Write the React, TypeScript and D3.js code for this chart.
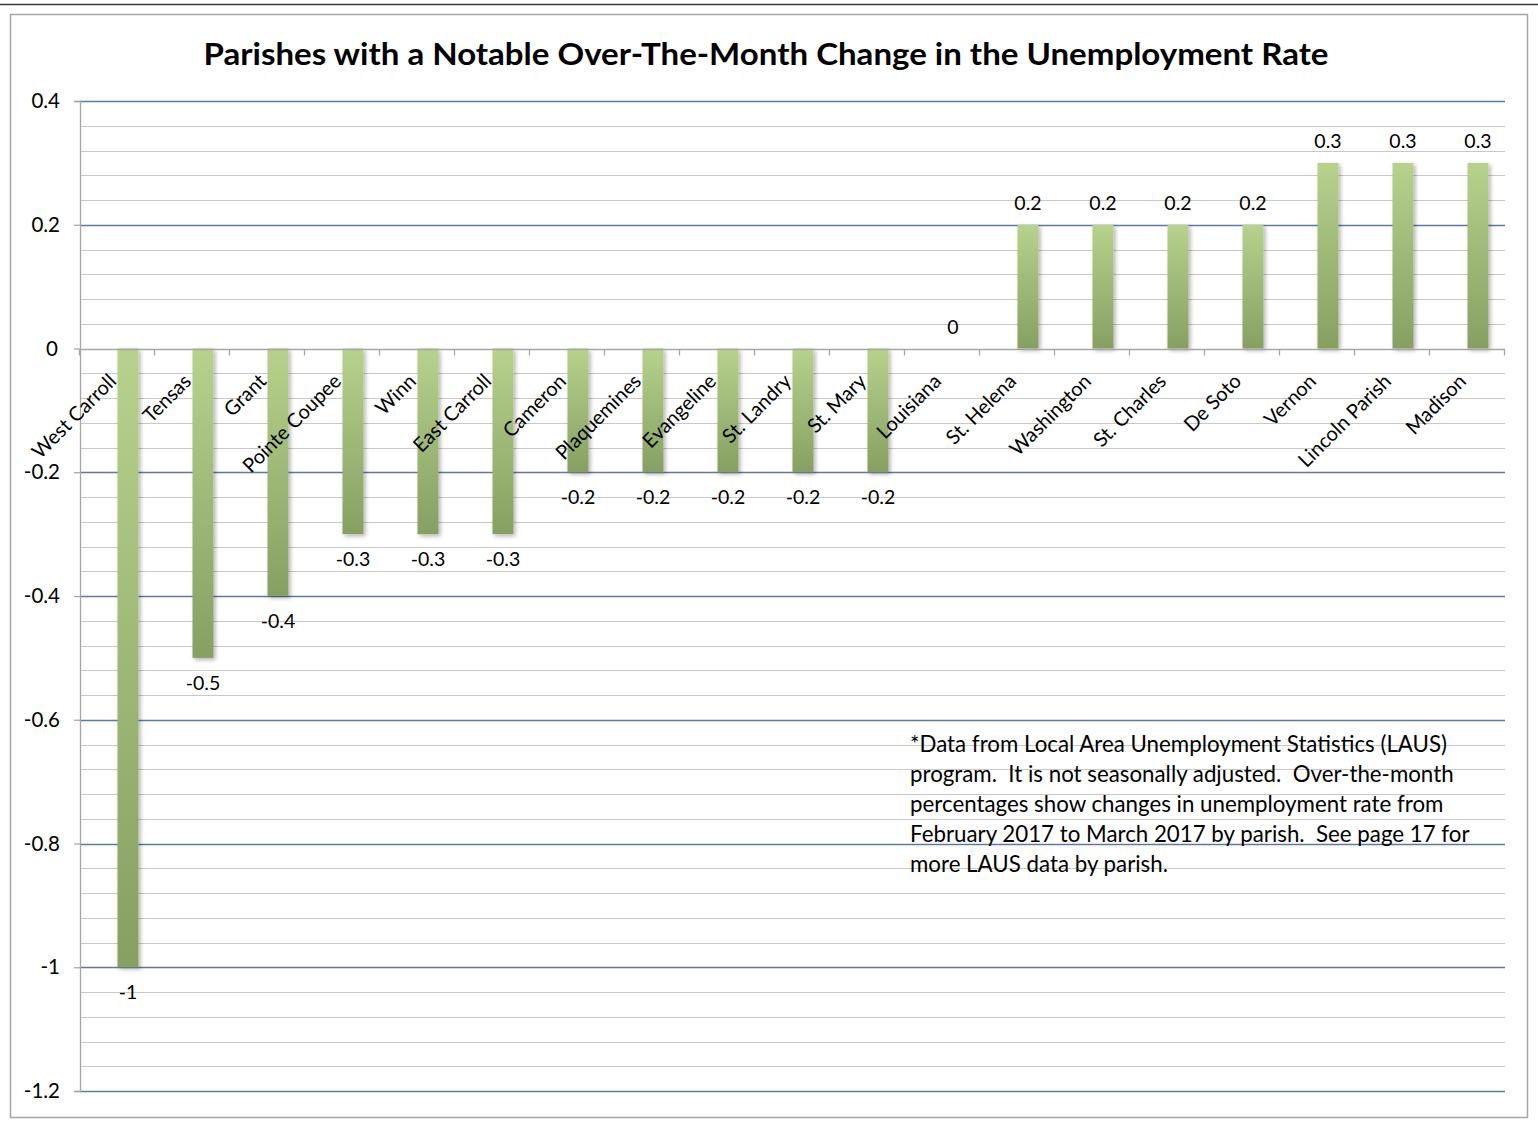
import { useRef, useEffect } from "react";
import * as d3 from "d3";

const PARISHES = [
  "West Carroll", "Tensas", "Grant", "Pointe Coupee", "Winn", "East Carroll",
  "Cameron", "Plaquemines", "Evangeline", "St. Landry", "St. Mary", "Louisiana",
  "St. Helena", "Washington", "St. Charles", "De Soto", "Vernon", "Lincoln Parish", "Madison",
];
const CHANGES = [
  -1, -0.5, -0.4, -0.3, -0.3, -0.3,
  -0.2, -0.2, -0.2, -0.2, -0.2, 0,
  0.2, 0.2, 0.2, 0.2, 0.3, 0.3, 0.3,
];
const Y_TICKS = [0.4, 0.2, 0, -0.2, -0.4, -0.6, -0.8, -1, -1.2];
const TITLE = "Parishes with a Notable Over-The-Month Change in the Unemployment Rate";
const NOTE_LINES = [
  "*Data from Local Area Unemployment Statistics (LAUS)",
  "program.  It is not seasonally adjusted.  Over-the-month",
  "percentages show changes in unemployment rate from",
  "February 2017 to March 2017 by parish.  See page 17 for",
  "more LAUS data by parish.",
];

const WIDTH = 1538;
const HEIGHT = 1121;
const PLOT = { left: 80, right: 1505, top: 101, bottom: 1091 };
const FONT = "Lato, 'Open Sans', sans-serif";

export default function App() {
  const svgRef = useRef<SVGSVGElement>(null);

  useEffect(() => {
    if (!svgRef.current) return;
    const svg = d3.select(svgRef.current);
    svg.selectAll("*").remove();

    const defs = svg.append("defs");
    const grad = defs.append("linearGradient")
      .attr("id", "bar-grad")
      .attr("x1", 0).attr("y1", 0).attr("x2", 0).attr("y2", 1);
    grad.append("stop").attr("offset", "0%").attr("stop-color", "#b6d28c");
    grad.append("stop").attr("offset", "100%").attr("stop-color", "#86a062");

    const shadow = defs.append("filter").attr("id", "bar-shadow")
      .attr("x", "-30%").attr("y", "-10%").attr("width", "160%").attr("height", "120%");
    shadow.append("feDropShadow")
      .attr("dx", 2).attr("dy", 2).attr("stdDeviation", 2)
      .attr("flood-color", "#000").attr("flood-opacity", 0.3);

    // page rule + chart frame
    svg.append("line")
      .attr("x1", 0).attr("x2", WIDTH).attr("y1", 4.5).attr("y2", 4.5)
      .attr("stroke", "#3a3a3a").attr("stroke-width", 1.5);
    svg.append("rect")
      .attr("x", 10.5).attr("y", 14.5).attr("width", 1517).attr("height", 1103)
      .attr("fill", "#fff").attr("stroke", "#a6a6a6").attr("stroke-width", 1.5);

    // title
    svg.append("text")
      .attr("x", 766).attr("y", 65)
      .attr("text-anchor", "middle")
      .attr("font-family", FONT).attr("font-size", 31).attr("font-weight", 700)
      .attr("fill", "#000")
      .attr("textLength", 1125).attr("lengthAdjust", "spacingAndGlyphs")
      .text(TITLE);

    const x = d3.scaleBand<string>().domain(PARISHES).range([PLOT.left, PLOT.right]);
    // Excel-style cluster: an empty slot then the visible series
    const sub = d3.scaleBand<string>().domain(["empty", "change"])
      .range([0, x.step()]).paddingOuter(0.79);
    const y = d3.scaleLinear().domain([-1.2, 0.4]).range([PLOT.bottom, PLOT.top]);

    // minor gridlines
    const minor = d3.range(-1.2, 0.4001, 0.04).map((v) => +v.toFixed(2));
    svg.append("g").selectAll("line")
      .data(minor.filter((v) => !Y_TICKS.some((t) => Math.abs(t - v) < 1e-6)))
      .join("line")
      .attr("x1", PLOT.left).attr("x2", PLOT.right)
      .attr("y1", (d) => Math.round(y(d)) + 0.5).attr("y2", (d) => Math.round(y(d)) + 0.5)
      .attr("stroke", "#c8c8c8").attr("stroke-width", 1.2);

    // major gridlines (not the zero line)
    svg.append("g").selectAll("line")
      .data(Y_TICKS.filter((v) => v !== 0))
      .join("line")
      .attr("x1", PLOT.left).attr("x2", PLOT.right)
      .attr("y1", (d) => Math.round(y(d)) + 0.5).attr("y2", (d) => Math.round(y(d)) + 0.5)
      .attr("stroke", "#5b7aa6").attr("stroke-width", 1.3);

    // y axis
    const yAxis = svg.append("g")
      .attr("transform", `translate(${PLOT.left},0)`)
      .call(d3.axisLeft(y).tickValues(Y_TICKS).tickSize(6).tickPadding(14)
        .tickFormat((d) => String(+(+d).toFixed(1))));
    yAxis.select(".domain").attr("stroke", "#a6a6a6").attr("stroke-width", 1.3);
    yAxis.selectAll(".tick line").attr("stroke", "#a6a6a6").attr("stroke-width", 1.3);
    yAxis.selectAll(".tick text")
      .attr("font-family", FONT).attr("font-size", 20.5).attr("fill", "#000");
    yAxis.selectAll(".tick text").filter((d) => d === 0).attr("dx", -2);

    // bars
    const data = PARISHES.map((p, i) => ({ parish: p, value: CHANGES[i] }));
    const barX = (d: { parish: string }) => (x(d.parish) ?? 0) + (sub("change") ?? 0);
    svg.append("g").selectAll("rect")
      .data(data.filter((d) => d.value !== 0))
      .join("rect")
      .attr("x", barX)
      .attr("width", sub.bandwidth())
      .attr("y", (d) => y(Math.max(0, d.value)))
      .attr("height", (d) => Math.abs(y(d.value) - y(0)))
      .attr("fill", "url(#bar-grad)")
      .attr("filter", "url(#bar-shadow)");

    // zero axis with category ticks
    const xAxis = svg.append("g")
      .attr("transform", `translate(0,${Math.round(y(0)) + 0.5})`);
    xAxis.append("line")
      .attr("x1", PLOT.left).attr("x2", PLOT.right)
      .attr("stroke", "#a6a6a6").attr("stroke-width", 1.3);
    xAxis.selectAll("line.tick")
      .data(PARISHES.map((p) => x(p) ?? 0).concat([PLOT.right]))
      .join("line")
      .attr("class", "tick")
      .attr("x1", (d) => Math.round(d) - 0.5).attr("x2", (d) => Math.round(d) - 0.5)
      .attr("y1", 0).attr("y2", 6)
      .attr("stroke", "#a6a6a6").attr("stroke-width", 1.3);

    // category labels
    svg.append("g").selectAll("text")
      .data(PARISHES)
      .join("text")
      .attr("transform", (d) => `translate(${(x(d) ?? 0) + x.step() / 2},${y(0) + 34}) rotate(-45)`)
      .attr("text-anchor", "end")
      .attr("font-family", FONT).attr("font-size", 20).attr("fill", "#000")
      .text((d) => d);

    // value labels
    svg.append("g").selectAll("text")
      .data(data)
      .join("text")
      .attr("x", (d) => barX(d) + sub.bandwidth() / 2)
      .attr("y", (d) => (d.value >= 0 ? y(d.value) - 15 : y(d.value) + 32))
      .attr("text-anchor", "middle")
      .attr("font-family", FONT).attr("font-size", 19.5).attr("fill", "#000")
      .text((d) => String(d.value));

    // note
    svg.append("text")
      .attr("font-family", FONT).attr("font-size", 22.3).attr("fill", "#000")
      .selectAll("tspan")
      .data(NOTE_LINES)
      .join("tspan")
      .attr("x", 910)
      .attr("y", (_d, i) => 752 + i * 30)
      .style("white-space", "pre")
      .text((d) => d);
  }, []);

  return (
    <div style={{ position: "absolute", left: 0, top: 0 }}>
      <svg ref={svgRef} width={WIDTH} height={HEIGHT} style={{ display: "block", background: "#fff" }} />
    </div>
  );
}
